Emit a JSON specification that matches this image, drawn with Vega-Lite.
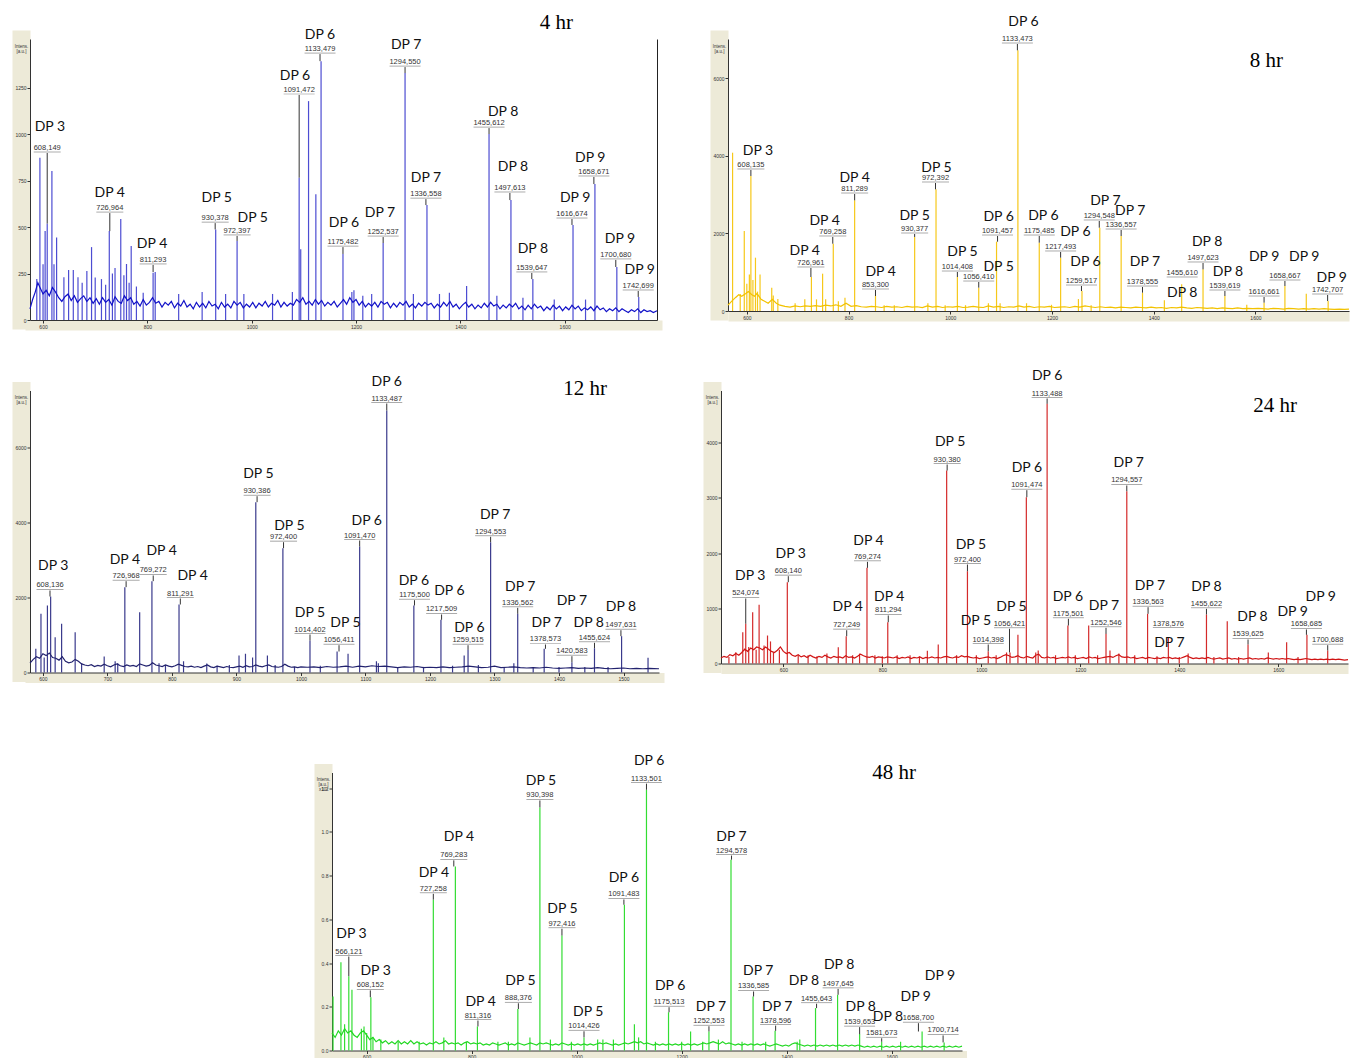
{
"$schema":"https://vega.github.io/schema/vega-lite/v6.json",
"padding":{"left":14,"top":12,"right":0,"bottom":0},
"background":"white",
"config":{
 "view":{"stroke":null},
 "axis":{"grid":false,"domainColor":"#333","domainWidth":1,"tickColor":"#333","tickSize":3,"labelFontSize":5,"labelColor":"#333","labelFont":"Liberation Sans","labelPadding":1,"titleFontWeight":"normal"},
 "axisY":{"titleAngle":0,"titleAlign":"center","titleBaseline":"top","titleX":-9,"titleY":4,"titleFontSize":4.5,"titleColor":"#333","titleFont":"Liberation Sans","titleLineHeight":5},
 "title":{"font":"Liberation Serif","fontSize":21,"fontWeight":"normal","color":"#000","anchor":"end","frame":"group","baseline":"top"}
},
"datasets":{
"a_pk":[{"mz":588,"i":220},{"mz":594,"i":873},{"mz":600,"i":300},{"mz":604,"i":478},{"mz":608,"i":518},{"mz":617,"i":801},{"mz":621,"i":300},{"mz":626,"i":443},{"mz":640,"i":230},{"mz":649,"i":269},{"mz":658,"i":269},{"mz":667,"i":230},{"mz":675,"i":200},{"mz":684,"i":263},{"mz":693,"i":392},{"mz":700,"i":228},{"mz":712,"i":220},{"mz":720,"i":190},{"mz":727,"i":478},{"mz":733,"i":250},{"mz":738,"i":280},{"mz":749,"i":543},{"mz":755,"i":240},{"mz":760,"i":301},{"mz":765,"i":200},{"mz":769,"i":398},{"mz":779,"i":180},{"mz":792,"i":147},{"mz":811,"i":254},{"mz":815,"i":258},{"mz":860,"i":140},{"mz":905,"i":150},{"mz":931,"i":487},{"mz":950,"i":140},{"mz":972,"i":425},{"mz":985,"i":140},{"mz":1040,"i":140},{"mz":1078,"i":150},{"mz":1091,"i":765},{"mz":1094,"i":380},{"mz":1109,"i":1177},{"mz":1123,"i":676},{"mz":1133,"i":1392},{"mz":1175,"i":355},{"mz":1192,"i":150},{"mz":1196,"i":160},{"mz":1213,"i":130},{"mz":1230,"i":140},{"mz":1252,"i":414},{"mz":1294,"i":1328},{"mz":1310,"i":140},{"mz":1336,"i":618},{"mz":1360,"i":140},{"mz":1379,"i":147},{"mz":1412,"i":183},{"mz":1455,"i":1000},{"mz":1470,"i":130},{"mz":1497,"i":645},{"mz":1520,"i":120},{"mz":1539,"i":220},{"mz":1580,"i":110},{"mz":1616,"i":511},{"mz":1640,"i":110},{"mz":1658,"i":731},{"mz":1700,"i":285},{"mz":1742,"i":124}],
"a_base":[{"mz":575,"i":60},{"mz":580,"i":110},{"mz":585,"i":150},{"mz":590,"i":200},{"mz":595,"i":170},{"mz":600,"i":140},{"mz":606,"i":160},{"mz":612,"i":130},{"mz":618,"i":175},{"mz":624,"i":150},{"mz":630,"i":120},{"mz":636,"i":100},{"mz":642,"i":125},{"mz":648,"i":140},{"mz":654,"i":105},{"mz":660,"i":130},{"mz":666,"i":95},{"mz":672,"i":115},{"mz":678,"i":130},{"mz":684,"i":100},{"mz":690,"i":120},{"mz":696,"i":90},{"mz":702,"i":115},{"mz":708,"i":85},{"mz":714,"i":120},{"mz":720,"i":95},{"mz":726,"i":110},{"mz":732,"i":80},{"mz":738,"i":125},{"mz":744,"i":100},{"mz":750,"i":90},{"mz":756,"i":130},{"mz":762,"i":105},{"mz":768,"i":120},{"mz":774,"i":85},{"mz":780,"i":100},{"mz":786,"i":75},{"mz":792,"i":110},{"mz":798,"i":80},{"mz":804,"i":95},{"mz":810,"i":120},{"mz":816,"i":90},{"mz":822,"i":100},{"mz":828,"i":70},{"mz":834,"i":95},{"mz":840,"i":80},{"mz":846,"i":100},{"mz":852,"i":65},{"mz":858,"i":90},{"mz":864,"i":75},{"mz":870,"i":105},{"mz":876,"i":70},{"mz":882,"i":85},{"mz":888,"i":60},{"mz":894,"i":95},{"mz":900,"i":70},{"mz":906,"i":90},{"mz":912,"i":65},{"mz":918,"i":100},{"mz":924,"i":75},{"mz":930,"i":85},{"mz":936,"i":60},{"mz":942,"i":95},{"mz":948,"i":70},{"mz":954,"i":85},{"mz":960,"i":65},{"mz":966,"i":100},{"mz":972,"i":80},{"mz":978,"i":95},{"mz":984,"i":65},{"mz":990,"i":85},{"mz":996,"i":70},{"mz":1002,"i":95},{"mz":1008,"i":65},{"mz":1014,"i":90},{"mz":1020,"i":75},{"mz":1026,"i":100},{"mz":1032,"i":70},{"mz":1038,"i":90},{"mz":1044,"i":80},{"mz":1050,"i":105},{"mz":1056,"i":70},{"mz":1062,"i":95},{"mz":1068,"i":75},{"mz":1074,"i":90},{"mz":1080,"i":80},{"mz":1086,"i":110},{"mz":1092,"i":95},{"mz":1098,"i":120},{"mz":1104,"i":85},{"mz":1110,"i":100},{"mz":1116,"i":80},{"mz":1122,"i":110},{"mz":1128,"i":85},{"mz":1134,"i":105},{"mz":1140,"i":75},{"mz":1146,"i":95},{"mz":1152,"i":80},{"mz":1158,"i":100},{"mz":1164,"i":70},{"mz":1170,"i":90},{"mz":1176,"i":110},{"mz":1182,"i":85},{"mz":1188,"i":120},{"mz":1194,"i":95},{"mz":1200,"i":110},{"mz":1206,"i":80},{"mz":1212,"i":100},{"mz":1218,"i":70},{"mz":1224,"i":90},{"mz":1230,"i":75},{"mz":1236,"i":95},{"mz":1242,"i":70},{"mz":1248,"i":100},{"mz":1254,"i":85},{"mz":1260,"i":95},{"mz":1266,"i":65},{"mz":1272,"i":90},{"mz":1278,"i":70},{"mz":1284,"i":95},{"mz":1290,"i":80},{"mz":1296,"i":100},{"mz":1302,"i":70},{"mz":1308,"i":85},{"mz":1314,"i":65},{"mz":1320,"i":90},{"mz":1326,"i":75},{"mz":1332,"i":95},{"mz":1338,"i":80},{"mz":1344,"i":90},{"mz":1350,"i":65},{"mz":1356,"i":85},{"mz":1362,"i":70},{"mz":1368,"i":95},{"mz":1374,"i":75},{"mz":1380,"i":100},{"mz":1386,"i":70},{"mz":1392,"i":85},{"mz":1398,"i":60},{"mz":1404,"i":80},{"mz":1410,"i":95},{"mz":1416,"i":70},{"mz":1422,"i":85},{"mz":1428,"i":60},{"mz":1434,"i":80},{"mz":1440,"i":65},{"mz":1446,"i":90},{"mz":1452,"i":70},{"mz":1458,"i":95},{"mz":1464,"i":75},{"mz":1470,"i":85},{"mz":1476,"i":60},{"mz":1482,"i":80},{"mz":1488,"i":65},{"mz":1494,"i":85},{"mz":1500,"i":70},{"mz":1506,"i":90},{"mz":1512,"i":60},{"mz":1518,"i":75},{"mz":1524,"i":55},{"mz":1530,"i":80},{"mz":1536,"i":60},{"mz":1542,"i":85},{"mz":1548,"i":65},{"mz":1554,"i":75},{"mz":1560,"i":50},{"mz":1566,"i":70},{"mz":1572,"i":55},{"mz":1578,"i":80},{"mz":1584,"i":60},{"mz":1590,"i":75},{"mz":1596,"i":50},{"mz":1602,"i":70},{"mz":1608,"i":55},{"mz":1614,"i":80},{"mz":1620,"i":60},{"mz":1626,"i":75},{"mz":1632,"i":50},{"mz":1638,"i":65},{"mz":1644,"i":55},{"mz":1650,"i":70},{"mz":1656,"i":50},{"mz":1662,"i":75},{"mz":1668,"i":55},{"mz":1674,"i":65},{"mz":1680,"i":45},{"mz":1686,"i":60},{"mz":1692,"i":50},{"mz":1698,"i":65},{"mz":1704,"i":45},{"mz":1710,"i":60},{"mz":1716,"i":50},{"mz":1722,"i":40},{"mz":1728,"i":55},{"mz":1734,"i":45},{"mz":1740,"i":60},{"mz":1746,"i":40},{"mz":1752,"i":55},{"mz":1758,"i":45},{"mz":1764,"i":50},{"mz":1770,"i":40},{"mz":1777,"i":50}],
"a_lab":[{"dp":"DP 3","val":"608,149","tx":613,"ty":1038,"lx":608,"ly":898,"lead":518},{"dp":"DP 4","val":"726,964","tx":728,"ty":683,"lx":728,"ly":575,"lead":478},{"dp":"DP 4","val":"811,293","tx":809,"ty":409,"lx":811,"ly":296,"lead":258},{"dp":"DP 5","val":"930,378","tx":933,"ty":656,"lx":930,"ly":521,"lead":487},{"dp":"DP 5","val":"972,397","tx":1002,"ty":548,"lx":972,"ly":452,"lead":425},{"dp":"DP 6","val":"1091,472","tx":1083,"ty":1312,"lx":1091,"ly":1210,"lead":765},{"dp":"DP 6","val":"1133,479","tx":1131,"ty":1532,"lx":1131,"ly":1430,"lead":1392},{"dp":"DP 6","val":"1175,482","tx":1177,"ty":521,"lx":1175,"ly":392,"lead":355},{"dp":"DP 7","val":"1252,537","tx":1246,"ty":575,"lx":1252,"ly":446,"lead":414},{"dp":"DP 7","val":"1294,550","tx":1296,"ty":1478,"lx":1294,"ly":1360,"lead":1328},{"dp":"DP 7","val":"1336,558","tx":1334,"ty":763,"lx":1334,"ly":650,"lead":618},{"dp":"DP 8","val":"1455,612","tx":1482,"ty":1118,"lx":1455,"ly":1032,"lead":1000},{"dp":"DP 8","val":"1497,613","tx":1501,"ty":823,"lx":1495,"ly":683,"lead":645},{"dp":"DP 8","val":"1539,647","tx":1539,"ty":382,"lx":1537,"ly":253,"lead":220},{"dp":"DP 9","val":"1616,674","tx":1620,"ty":656,"lx":1614,"ly":543,"lead":511},{"dp":"DP 9","val":"1658,671","tx":1649,"ty":871,"lx":1656,"ly":769,"lead":731},{"dp":"DP 9","val":"1700,680","tx":1706,"ty":435,"lx":1698,"ly":323,"lead":285},{"dp":"DP 9","val":"1742,699","tx":1744,"ty":269,"lx":1741,"ly":156,"lead":124}],
"b_pk":[{"mz":572,"i":4085},{"mz":587,"i":436},{"mz":595,"i":2065},{"mz":600,"i":700},{"mz":605,"i":942},{"mz":608,"i":3484},{"mz":612,"i":800},{"mz":617,"i":1376},{"mz":621,"i":500},{"mz":626,"i":942},{"mz":649,"i":602},{"mz":652,"i":400},{"mz":661,"i":308},{"mz":695,"i":200},{"mz":714,"i":300},{"mz":727,"i":877},{"mz":737,"i":300},{"mz":749,"i":963},{"mz":755,"i":300},{"mz":770,"i":1737},{"mz":780,"i":250},{"mz":793,"i":344},{"mz":812,"i":2856},{"mz":853,"i":387},{"mz":870,"i":150},{"mz":890,"i":150},{"mz":930,"i":1910},{"mz":956,"i":200},{"mz":972,"i":3140},{"mz":990,"i":150},{"mz":1014,"i":877},{"mz":1030,"i":150},{"mz":1056,"i":602},{"mz":1075,"i":200},{"mz":1091,"i":1789},{"mz":1098,"i":200},{"mz":1133,"i":6727},{"mz":1150,"i":200},{"mz":1175,"i":1763},{"mz":1199,"i":160},{"mz":1217,"i":1376},{"mz":1252,"i":308},{"mz":1259,"i":516},{"mz":1277,"i":150},{"mz":1294,"i":2150},{"mz":1336,"i":1935},{"mz":1378,"i":473},{"mz":1421,"i":275},{"mz":1455,"i":688},{"mz":1497,"i":1075},{"mz":1540,"i":387},{"mz":1583,"i":160},{"mz":1617,"i":215},{"mz":1658,"i":645},{"mz":1700,"i":447},{"mz":1743,"i":258}],
"b_base":[{"mz":563,"i":150},{"mz":570,"i":250},{"mz":578,"i":350},{"mz":584,"i":420},{"mz":590,"i":380},{"mz":598,"i":450},{"mz":603,"i":500},{"mz":610,"i":420},{"mz":615,"i":380},{"mz":620,"i":450},{"mz":628,"i":300},{"mz":635,"i":250},{"mz":642,"i":200},{"mz":650,"i":300},{"mz":658,"i":200},{"mz":665,"i":150},{"mz":675,"i":120},{"mz":685,"i":100},{"mz":695,"i":130},{"mz":705,"i":110},{"mz":715,"i":130},{"mz":725,"i":120},{"mz":735,"i":140},{"mz":745,"i":120},{"mz":755,"i":150},{"mz":765,"i":130},{"mz":775,"i":160},{"mz":785,"i":120},{"mz":795,"i":200},{"mz":805,"i":120},{"mz":815,"i":140},{"mz":825,"i":110},{"mz":835,"i":100},{"mz":845,"i":120},{"mz":855,"i":110},{"mz":865,"i":90},{"mz":875,"i":120},{"mz":885,"i":100},{"mz":895,"i":110},{"mz":905,"i":90},{"mz":915,"i":120},{"mz":925,"i":100},{"mz":935,"i":110},{"mz":945,"i":90},{"mz":955,"i":130},{"mz":965,"i":100},{"mz":975,"i":120},{"mz":985,"i":90},{"mz":995,"i":110},{"mz":1005,"i":100},{"mz":1015,"i":120},{"mz":1025,"i":90},{"mz":1035,"i":100},{"mz":1045,"i":120},{"mz":1055,"i":100},{"mz":1065,"i":90},{"mz":1075,"i":130},{"mz":1085,"i":100},{"mz":1095,"i":120},{"mz":1105,"i":90},{"mz":1115,"i":110},{"mz":1125,"i":100},{"mz":1135,"i":130},{"mz":1145,"i":100},{"mz":1155,"i":120},{"mz":1165,"i":90},{"mz":1175,"i":110},{"mz":1185,"i":100},{"mz":1195,"i":120},{"mz":1205,"i":90},{"mz":1215,"i":100},{"mz":1225,"i":110},{"mz":1235,"i":90},{"mz":1245,"i":120},{"mz":1255,"i":100},{"mz":1265,"i":130},{"mz":1275,"i":110},{"mz":1285,"i":90},{"mz":1295,"i":110},{"mz":1305,"i":90},{"mz":1315,"i":100},{"mz":1325,"i":80},{"mz":1335,"i":100},{"mz":1345,"i":90},{"mz":1355,"i":80},{"mz":1365,"i":100},{"mz":1375,"i":90},{"mz":1385,"i":80},{"mz":1395,"i":100},{"mz":1405,"i":80},{"mz":1415,"i":90},{"mz":1425,"i":70},{"mz":1435,"i":90},{"mz":1445,"i":80},{"mz":1455,"i":100},{"mz":1465,"i":80},{"mz":1475,"i":70},{"mz":1485,"i":90},{"mz":1495,"i":80},{"mz":1505,"i":70},{"mz":1515,"i":80},{"mz":1525,"i":60},{"mz":1535,"i":80},{"mz":1545,"i":70},{"mz":1555,"i":60},{"mz":1565,"i":80},{"mz":1575,"i":60},{"mz":1585,"i":70},{"mz":1595,"i":60},{"mz":1605,"i":70},{"mz":1615,"i":60},{"mz":1625,"i":50},{"mz":1635,"i":70},{"mz":1645,"i":60},{"mz":1655,"i":50},{"mz":1665,"i":70},{"mz":1675,"i":60},{"mz":1685,"i":50},{"mz":1695,"i":60},{"mz":1705,"i":50},{"mz":1715,"i":60},{"mz":1725,"i":50},{"mz":1735,"i":60},{"mz":1745,"i":50},{"mz":1755,"i":40},{"mz":1765,"i":50},{"mz":1775,"i":40},{"mz":1784,"i":50}],
"b_lab":[{"dp":"DP 3","val":"608,135","tx":622,"ty":4129,"lx":608,"ly":3639,"lead":3484},{"dp":"DP 4","val":"726,961","tx":714,"ty":1548,"lx":726,"ly":1110,"lead":877},{"dp":"DP 4","val":"769,258","tx":753,"ty":2323,"lx":769,"ly":1910,"lead":1737},{"dp":"DP 4","val":"811,289","tx":812,"ty":3440,"lx":812,"ly":3019,"lead":2856},{"dp":"DP 4","val":"853,300","tx":863,"ty":1006,"lx":853,"ly":542,"lead":387},{"dp":"DP 5","val":"930,377","tx":930,"ty":2452,"lx":930,"ly":1987,"lead":1910},{"dp":"DP 5","val":"972,392","tx":973,"ty":3700,"lx":971,"ly":3303,"lead":3140},{"dp":"DP 5","val":"1014,408","tx":1024,"ty":1523,"lx":1014,"ly":1006,"lead":877},{"dp":"DP 5","val":"1056,410","tx":1095,"ty":1135,"lx":1056,"ly":748,"lead":602},{"dp":"DP 6","val":"1091,457","tx":1095,"ty":2426,"lx":1093,"ly":1935,"lead":1789},{"dp":"DP 6","val":"1133,473","tx":1144,"ty":7458,"lx":1132,"ly":6890,"lead":6727},{"dp":"DP 6","val":"1175,485","tx":1183,"ty":2452,"lx":1175,"ly":1935,"lead":1763},{"dp":"DP 6","val":"1217,493","tx":1246,"ty":2039,"lx":1217,"ly":1523,"lead":1376},{"dp":"DP 6","val":"1259,517","tx":1266,"ty":1264,"lx":1258,"ly":645,"lead":516},{"dp":"DP 7","val":"1294,548","tx":1305,"ty":2839,"lx":1293,"ly":2323,"lead":2150},{"dp":"DP 7","val":"1336,557","tx":1354,"ty":2581,"lx":1336,"ly":2090,"lead":1935},{"dp":"DP 7","val":"1378,555","tx":1383,"ty":1264,"lx":1378,"ly":619,"lead":473},{"dp":"DP 8","val":"1455,610","tx":1456,"ty":464,"lx":1456,"ly":852,"lead":852},{"dp":"DP 8","val":"1497,623","tx":1505,"ty":1781,"lx":1497,"ly":1239,"lead":1075},{"dp":"DP 8","val":"1539,619","tx":1546,"ty":1006,"lx":1540,"ly":516,"lead":387},{"dp":"DP 9","val":"1616,661","tx":1617,"ty":1394,"lx":1617,"ly":361,"lead":215},{"dp":"DP 9","val":"1658,667","tx":1696,"ty":1394,"lx":1658,"ly":774,"lead":645},{"dp":"DP 9","val":"1742,707","tx":1750,"ty":852,"lx":1742,"ly":413,"lead":258}],
"c_pk":[{"mz":589,"i":632},{"mz":597,"i":1565},{"mz":602,"i":400},{"mz":607,"i":1787},{"mz":612,"i":2027},{"mz":619,"i":942},{"mz":629,"i":1298},{"mz":650,"i":1076},{"mz":660,"i":250},{"mz":695,"i":427},{"mz":712,"i":300},{"mz":716,"i":250},{"mz":727,"i":2276},{"mz":750,"i":1609},{"mz":769,"i":2436},{"mz":780,"i":250},{"mz":790,"i":200},{"mz":811,"i":1813},{"mz":818,"i":300},{"mz":854,"i":240},{"mz":870,"i":180},{"mz":889,"i":200},{"mz":904,"i":453},{"mz":914,"i":500},{"mz":925,"i":400},{"mz":930,"i":4542},{"mz":948,"i":453},{"mz":960,"i":200},{"mz":972,"i":3316},{"mz":990,"i":150},{"mz":1014,"i":853},{"mz":1030,"i":180},{"mz":1056,"i":560},{"mz":1073,"i":500},{"mz":1091,"i":3360},{"mz":1117,"i":300},{"mz":1120,"i":250},{"mz":1133,"i":6987},{"mz":1150,"i":150},{"mz":1175,"i":1787},{"mz":1190,"i":150},{"mz":1217,"i":1405},{"mz":1235,"i":180},{"mz":1253,"i":453},{"mz":1259,"i":605},{"mz":1275,"i":200},{"mz":1294,"i":3476},{"mz":1315,"i":150},{"mz":1330,"i":250},{"mz":1336,"i":1565},{"mz":1360,"i":150},{"mz":1377,"i":632},{"mz":1400,"i":150},{"mz":1420,"i":275},{"mz":1440,"i":150},{"mz":1455,"i":648},{"mz":1476,"i":150},{"mz":1497,"i":969},{"mz":1538,"i":392}],
"c_base":[{"mz":580,"i":250},{"mz":585,"i":350},{"mz":590,"i":420},{"mz":595,"i":380},{"mz":600,"i":500},{"mz":605,"i":450},{"mz":610,"i":520},{"mz":615,"i":400},{"mz":620,"i":380},{"mz":625,"i":330},{"mz":630,"i":420},{"mz":635,"i":300},{"mz":640,"i":260},{"mz":645,"i":280},{"mz":650,"i":350},{"mz":655,"i":300},{"mz":660,"i":230},{"mz":665,"i":200},{"mz":670,"i":180},{"mz":675,"i":210},{"mz":680,"i":160},{"mz":685,"i":190},{"mz":690,"i":170},{"mz":695,"i":220},{"mz":700,"i":180},{"mz":705,"i":150},{"mz":710,"i":200},{"mz":715,"i":230},{"mz":720,"i":180},{"mz":725,"i":160},{"mz":730,"i":200},{"mz":735,"i":170},{"mz":740,"i":190},{"mz":745,"i":160},{"mz":750,"i":230},{"mz":755,"i":200},{"mz":760,"i":170},{"mz":765,"i":190},{"mz":770,"i":260},{"mz":775,"i":200},{"mz":780,"i":180},{"mz":785,"i":160},{"mz":790,"i":200},{"mz":795,"i":170},{"mz":800,"i":150},{"mz":805,"i":180},{"mz":810,"i":220},{"mz":815,"i":190},{"mz":820,"i":160},{"mz":825,"i":150},{"mz":830,"i":170},{"mz":835,"i":140},{"mz":840,"i":160},{"mz":845,"i":130},{"mz":850,"i":170},{"mz":855,"i":200},{"mz":860,"i":150},{"mz":865,"i":130},{"mz":870,"i":170},{"mz":875,"i":150},{"mz":880,"i":130},{"mz":885,"i":160},{"mz":890,"i":140},{"mz":895,"i":130},{"mz":900,"i":150},{"mz":905,"i":170},{"mz":910,"i":140},{"mz":915,"i":180},{"mz":920,"i":150},{"mz":925,"i":160},{"mz":930,"i":200},{"mz":935,"i":170},{"mz":940,"i":150},{"mz":945,"i":180},{"mz":950,"i":200},{"mz":955,"i":160},{"mz":960,"i":150},{"mz":965,"i":140},{"mz":970,"i":160},{"mz":975,"i":220},{"mz":980,"i":170},{"mz":985,"i":140},{"mz":990,"i":150},{"mz":995,"i":130},{"mz":1000,"i":150},{"mz":1010,"i":140},{"mz":1020,"i":150},{"mz":1030,"i":130},{"mz":1040,"i":160},{"mz":1050,"i":140},{"mz":1060,"i":150},{"mz":1070,"i":170},{"mz":1080,"i":140},{"mz":1090,"i":170},{"mz":1100,"i":150},{"mz":1110,"i":180},{"mz":1120,"i":160},{"mz":1130,"i":170},{"mz":1140,"i":150},{"mz":1150,"i":130},{"mz":1160,"i":150},{"mz":1170,"i":140},{"mz":1180,"i":160},{"mz":1190,"i":130},{"mz":1200,"i":140},{"mz":1210,"i":130},{"mz":1220,"i":150},{"mz":1230,"i":130},{"mz":1240,"i":140},{"mz":1250,"i":150},{"mz":1260,"i":170},{"mz":1270,"i":150},{"mz":1280,"i":130},{"mz":1290,"i":140},{"mz":1300,"i":170},{"mz":1310,"i":130},{"mz":1320,"i":140},{"mz":1330,"i":150},{"mz":1340,"i":130},{"mz":1350,"i":120},{"mz":1360,"i":130},{"mz":1370,"i":120},{"mz":1380,"i":140},{"mz":1390,"i":120},{"mz":1400,"i":110},{"mz":1410,"i":120},{"mz":1420,"i":130},{"mz":1430,"i":110},{"mz":1440,"i":120},{"mz":1450,"i":110},{"mz":1460,"i":130},{"mz":1470,"i":110},{"mz":1480,"i":100},{"mz":1490,"i":110},{"mz":1500,"i":120},{"mz":1510,"i":100},{"mz":1520,"i":110},{"mz":1530,"i":100},{"mz":1540,"i":110},{"mz":1555,"i":100}],
"c_lab":[{"dp":"DP 3","val":"608,136","tx":616,"ty":2853,"lx":611,"ly":2187,"lead":2027},{"dp":"DP 4","val":"726,968","tx":727,"ty":2987,"lx":729,"ly":2435,"lead":2276},{"dp":"DP 4","val":"769,272","tx":784,"ty":3253,"lx":771,"ly":2587,"lead":2436},{"dp":"DP 4","val":"811,291","tx":832,"ty":2568,"lx":813,"ly":1973,"lead":1813},{"dp":"DP 5","val":"930,386","tx":934,"ty":5299,"lx":932,"ly":4701,"lead":4542},{"dp":"DP 5","val":"972,400","tx":982,"ty":3920,"lx":973,"ly":3475,"lead":3316},{"dp":"DP 5","val":"1014,402","tx":1014,"ty":1592,"lx":1014,"ly":1013,"lead":853},{"dp":"DP 5","val":"1056,411","tx":1069,"ty":1325,"lx":1059,"ly":728,"lead":560},{"dp":"DP 6","val":"1091,470","tx":1102,"ty":4053,"lx":1091,"ly":3520,"lead":3360},{"dp":"DP 6","val":"1133,487","tx":1133,"ty":7741,"lx":1133,"ly":7173,"lead":6987},{"dp":"DP 6","val":"1175,500","tx":1175,"ty":2435,"lx":1176,"ly":1928,"lead":1787},{"dp":"DP 6","val":"1217,509","tx":1230,"ty":2168,"lx":1218,"ly":1547,"lead":1405},{"dp":"DP 6","val":"1259,515","tx":1261,"ty":1192,"lx":1259,"ly":728,"lead":605},{"dp":"DP 7","val":"1294,553","tx":1301,"ty":4213,"lx":1294,"ly":3619,"lead":3476},{"dp":"DP 7","val":"1336,562","tx":1340,"ty":2275,"lx":1336,"ly":1725,"lead":1565},{"dp":"DP 7","val":"1378,573","tx":1381,"ty":1325,"lx":1379,"ly":747,"lead":632},{"dp":"DP 7","val":"1420,583","tx":1420,"ty":1901,"lx":1420,"ly":435,"lead":275},{"dp":"DP 8","val":"1455,624","tx":1446,"ty":1325,"lx":1455,"ly":792,"lead":648},{"dp":"DP 8","val":"1497,631","tx":1496,"ty":1741,"lx":1496,"ly":1128,"lead":969}],
"d_pk":[{"mz":490,"i":120},{"mz":504,"i":205},{"mz":518,"i":567},{"mz":524,"i":720},{"mz":530,"i":300},{"mz":538,"i":930},{"mz":545,"i":250},{"mz":551,"i":1063},{"mz":561,"i":326},{"mz":568,"i":507},{"mz":574,"i":400},{"mz":580,"i":200},{"mz":592,"i":250},{"mz":608,"i":1473},{"mz":630,"i":150},{"mz":650,"i":150},{"mz":668,"i":130},{"mz":688,"i":180},{"mz":711,"i":295},{"mz":727,"i":495},{"mz":740,"i":150},{"mz":754,"i":180},{"mz":769,"i":1733},{"mz":785,"i":150},{"mz":800,"i":130},{"mz":811,"i":748},{"mz":830,"i":150},{"mz":856,"i":150},{"mz":875,"i":130},{"mz":891,"i":230},{"mz":913,"i":344},{"mz":930,"i":3496},{"mz":950,"i":150},{"mz":972,"i":1672},{"mz":990,"i":150},{"mz":1014,"i":223},{"mz":1030,"i":150},{"mz":1051,"i":200},{"mz":1058,"i":200},{"mz":1074,"i":520},{"mz":1091,"i":3013},{"mz":1110,"i":200},{"mz":1115,"i":235},{"mz":1133,"i":4705},{"mz":1150,"i":150},{"mz":1175,"i":688},{"mz":1190,"i":150},{"mz":1217,"i":688},{"mz":1235,"i":150},{"mz":1252,"i":537},{"mz":1260,"i":235},{"mz":1278,"i":180},{"mz":1294,"i":3122},{"mz":1310,"i":150},{"mz":1336,"i":900},{"mz":1355,"i":130},{"mz":1378,"i":477},{"mz":1400,"i":120},{"mz":1418,"i":180},{"mz":1455,"i":888},{"mz":1470,"i":120},{"mz":1497,"i":767},{"mz":1520,"i":120},{"mz":1539,"i":344},{"mz":1580,"i":200},{"mz":1617,"i":386},{"mz":1640,"i":120},{"mz":1658,"i":520},{"mz":1700,"i":235}],
"d_base":[{"mz":474,"i":100},{"mz":480,"i":130},{"mz":486,"i":110},{"mz":492,"i":160},{"mz":498,"i":140},{"mz":504,"i":180},{"mz":510,"i":150},{"mz":516,"i":200},{"mz":522,"i":260},{"mz":528,"i":220},{"mz":534,"i":280},{"mz":540,"i":250},{"mz":546,"i":300},{"mz":552,"i":280},{"mz":558,"i":250},{"mz":564,"i":300},{"mz":570,"i":260},{"mz":576,"i":220},{"mz":582,"i":200},{"mz":588,"i":240},{"mz":594,"i":300},{"mz":600,"i":220},{"mz":606,"i":180},{"mz":612,"i":200},{"mz":618,"i":150},{"mz":624,"i":130},{"mz":630,"i":160},{"mz":636,"i":120},{"mz":642,"i":140},{"mz":648,"i":110},{"mz":654,"i":150},{"mz":660,"i":120},{"mz":666,"i":100},{"mz":672,"i":130},{"mz":678,"i":110},{"mz":684,"i":150},{"mz":690,"i":120},{"mz":696,"i":100},{"mz":702,"i":130},{"mz":708,"i":110},{"mz":714,"i":120},{"mz":720,"i":100},{"mz":726,"i":140},{"mz":732,"i":110},{"mz":738,"i":120},{"mz":744,"i":100},{"mz":750,"i":130},{"mz":756,"i":170},{"mz":762,"i":140},{"mz":768,"i":120},{"mz":774,"i":110},{"mz":780,"i":130},{"mz":786,"i":100},{"mz":792,"i":120},{"mz":798,"i":110},{"mz":804,"i":100},{"mz":810,"i":120},{"mz":816,"i":110},{"mz":822,"i":100},{"mz":828,"i":120},{"mz":834,"i":90},{"mz":840,"i":110},{"mz":846,"i":100},{"mz":852,"i":120},{"mz":858,"i":90},{"mz":864,"i":110},{"mz":870,"i":100},{"mz":876,"i":120},{"mz":882,"i":90},{"mz":888,"i":110},{"mz":894,"i":100},{"mz":900,"i":120},{"mz":906,"i":100},{"mz":912,"i":110},{"mz":918,"i":100},{"mz":924,"i":120},{"mz":930,"i":130},{"mz":936,"i":110},{"mz":942,"i":100},{"mz":948,"i":120},{"mz":954,"i":110},{"mz":960,"i":140},{"mz":966,"i":120},{"mz":972,"i":130},{"mz":978,"i":110},{"mz":984,"i":100},{"mz":990,"i":110},{"mz":996,"i":90},{"mz":1002,"i":100},{"mz":1008,"i":110},{"mz":1014,"i":120},{"mz":1020,"i":100},{"mz":1026,"i":110},{"mz":1032,"i":90},{"mz":1038,"i":110},{"mz":1044,"i":140},{"mz":1050,"i":160},{"mz":1056,"i":140},{"mz":1062,"i":110},{"mz":1068,"i":120},{"mz":1074,"i":140},{"mz":1080,"i":110},{"mz":1086,"i":100},{"mz":1092,"i":130},{"mz":1098,"i":110},{"mz":1104,"i":100},{"mz":1110,"i":150},{"mz":1116,"i":170},{"mz":1122,"i":110},{"mz":1128,"i":100},{"mz":1134,"i":120},{"mz":1140,"i":100},{"mz":1146,"i":110},{"mz":1152,"i":90},{"mz":1158,"i":100},{"mz":1164,"i":110},{"mz":1170,"i":100},{"mz":1176,"i":120},{"mz":1182,"i":100},{"mz":1188,"i":110},{"mz":1194,"i":90},{"mz":1200,"i":100},{"mz":1206,"i":110},{"mz":1212,"i":90},{"mz":1218,"i":120},{"mz":1224,"i":100},{"mz":1230,"i":110},{"mz":1236,"i":90},{"mz":1242,"i":100},{"mz":1248,"i":110},{"mz":1254,"i":120},{"mz":1260,"i":130},{"mz":1266,"i":110},{"mz":1272,"i":140},{"mz":1278,"i":160},{"mz":1284,"i":120},{"mz":1290,"i":110},{"mz":1296,"i":120},{"mz":1302,"i":100},{"mz":1308,"i":110},{"mz":1314,"i":90},{"mz":1320,"i":100},{"mz":1326,"i":110},{"mz":1332,"i":90},{"mz":1338,"i":110},{"mz":1344,"i":100},{"mz":1350,"i":90},{"mz":1356,"i":100},{"mz":1362,"i":90},{"mz":1368,"i":110},{"mz":1374,"i":100},{"mz":1380,"i":110},{"mz":1386,"i":90},{"mz":1392,"i":100},{"mz":1398,"i":90},{"mz":1404,"i":100},{"mz":1410,"i":120},{"mz":1416,"i":140},{"mz":1422,"i":110},{"mz":1428,"i":90},{"mz":1434,"i":100},{"mz":1440,"i":90},{"mz":1446,"i":100},{"mz":1452,"i":90},{"mz":1458,"i":110},{"mz":1464,"i":90},{"mz":1470,"i":80},{"mz":1476,"i":90},{"mz":1482,"i":100},{"mz":1488,"i":80},{"mz":1494,"i":90},{"mz":1500,"i":100},{"mz":1506,"i":80},{"mz":1512,"i":90},{"mz":1518,"i":80},{"mz":1524,"i":90},{"mz":1530,"i":80},{"mz":1536,"i":90},{"mz":1542,"i":100},{"mz":1548,"i":80},{"mz":1554,"i":90},{"mz":1560,"i":80},{"mz":1566,"i":90},{"mz":1572,"i":80},{"mz":1578,"i":100},{"mz":1584,"i":90},{"mz":1590,"i":80},{"mz":1596,"i":90},{"mz":1602,"i":80},{"mz":1608,"i":90},{"mz":1614,"i":80},{"mz":1620,"i":90},{"mz":1626,"i":80},{"mz":1632,"i":70},{"mz":1638,"i":80},{"mz":1644,"i":70},{"mz":1650,"i":80},{"mz":1656,"i":90},{"mz":1662,"i":80},{"mz":1668,"i":70},{"mz":1674,"i":80},{"mz":1680,"i":70},{"mz":1686,"i":80},{"mz":1692,"i":70},{"mz":1698,"i":80},{"mz":1704,"i":70},{"mz":1710,"i":80},{"mz":1716,"i":70},{"mz":1722,"i":80},{"mz":1728,"i":70},{"mz":1734,"i":60},{"mz":1741,"i":70}],
"d_lab":[{"dp":"DP 3","val":"524,074","tx":533,"ty":1582,"lx":524,"ly":1178,"lead":720},{"dp":"DP 3","val":"608,140","tx":615,"ty":1975,"lx":610,"ly":1582,"lead":1473},{"dp":"DP 4","val":"727,249","tx":730,"ty":1020,"lx":728,"ly":603,"lead":495},{"dp":"DP 4","val":"769,274","tx":772,"ty":2216,"lx":770,"ly":1842,"lead":1733},{"dp":"DP 4","val":"811,294","tx":814,"ty":1201,"lx":812,"ly":870,"lead":748},{"dp":"DP 5","val":"930,380","tx":937,"ty":4009,"lx":931,"ly":3605,"lead":3496},{"dp":"DP 5","val":"972,400","tx":979,"ty":2138,"lx":972,"ly":1793,"lead":1672},{"dp":"DP 5","val":"1014,398","tx":989,"ty":766,"lx":1014,"ly":344,"lead":223},{"dp":"DP 5","val":"1056,421","tx":1061,"ty":1020,"lx":1057,"ly":629,"lead":200},{"dp":"DP 6","val":"1091,474","tx":1092,"ty":3538,"lx":1092,"ly":3140,"lead":3013},{"dp":"DP 6","val":"1133,488","tx":1133,"ty":5217,"lx":1133,"ly":4801,"lead":4705},{"dp":"DP 6","val":"1175,501","tx":1175,"ty":1201,"lx":1176,"ly":810,"lead":688},{"dp":"DP 7","val":"1252,546","tx":1248,"ty":1033,"lx":1252,"ly":647,"lead":537},{"dp":"DP 7","val":"1294,557","tx":1298,"ty":3629,"lx":1294,"ly":3225,"lead":3122},{"dp":"DP 7","val":"1336,563","tx":1341,"ty":1400,"lx":1337,"ly":1020,"lead":900},{"dp":"DP 7","val":"1378,576","tx":1380,"ty":368,"lx":1378,"ly":634,"lead":634},{"dp":"DP 8","val":"1455,622","tx":1455,"ty":1395,"lx":1455,"ly":991,"lead":888},{"dp":"DP 8","val":"1539,625","tx":1548,"ty":839,"lx":1539,"ly":435,"lead":344},{"dp":"DP 9","val":"1658,685","tx":1629,"ty":929,"lx":1657,"ly":616,"lead":520},{"dp":"DP 9","val":"1700,688","tx":1686,"ty":1201,"lx":1700,"ly":332,"lead":235}],
"e_pk":[{"mz":536,"i":0.247},{"mz":551,"i":0.404},{"mz":558,"i":0.12},{"mz":566,"i":0.34},{"mz":572,"i":0.278},{"mz":590,"i":0.1},{"mz":595,"i":0.11},{"mz":600,"i":0.08},{"mz":608,"i":0.244},{"mz":612,"i":0.06},{"mz":627,"i":0.05},{"mz":660,"i":0.04},{"mz":700,"i":0.04},{"mz":727,"i":0.69},{"mz":747,"i":0.06},{"mz":769,"i":0.842},{"mz":790,"i":0.04},{"mz":811,"i":0.11},{"mz":850,"i":0.04},{"mz":870,"i":0.04},{"mz":888,"i":0.19},{"mz":911,"i":0.06},{"mz":930,"i":1.112},{"mz":950,"i":0.05},{"mz":972,"i":0.526},{"mz":990,"i":0.04},{"mz":1014,"i":0.06},{"mz":1040,"i":0.05},{"mz":1050,"i":0.05},{"mz":1070,"i":0.05},{"mz":1091,"i":0.667},{"mz":1110,"i":0.12},{"mz":1118,"i":0.06},{"mz":1133,"i":1.193},{"mz":1150,"i":0.04},{"mz":1175,"i":0.175},{"mz":1200,"i":0.04},{"mz":1217,"i":0.087},{"mz":1240,"i":0.04},{"mz":1252,"i":0.087},{"mz":1270,"i":0.05},{"mz":1294,"i":0.873},{"mz":1315,"i":0.04},{"mz":1336,"i":0.247},{"mz":1360,"i":0.04},{"mz":1378,"i":0.09},{"mz":1420,"i":0.04},{"mz":1425,"i":0.05},{"mz":1455,"i":0.194},{"mz":1497,"i":0.255},{"mz":1539,"i":0.075},{"mz":1581,"i":0.04},{"mz":1617,"i":0.04},{"mz":1658,"i":0.087},{"mz":1700,"i":0.037}],
"e_base":[{"mz":534,"i":0.08},{"mz":540,"i":0.06},{"mz":546,"i":0.09},{"mz":552,"i":0.07},{"mz":558,"i":0.1},{"mz":564,"i":0.08},{"mz":570,"i":0.09},{"mz":576,"i":0.07},{"mz":582,"i":0.06},{"mz":588,"i":0.08},{"mz":594,"i":0.09},{"mz":600,"i":0.07},{"mz":606,"i":0.05},{"mz":612,"i":0.06},{"mz":618,"i":0.04},{"mz":624,"i":0.05},{"mz":630,"i":0.035},{"mz":636,"i":0.045},{"mz":642,"i":0.03},{"mz":648,"i":0.04},{"mz":654,"i":0.03},{"mz":660,"i":0.045},{"mz":666,"i":0.03},{"mz":672,"i":0.04},{"mz":678,"i":0.03},{"mz":684,"i":0.045},{"mz":690,"i":0.03},{"mz":696,"i":0.04},{"mz":702,"i":0.03},{"mz":708,"i":0.035},{"mz":714,"i":0.025},{"mz":720,"i":0.035},{"mz":726,"i":0.03},{"mz":732,"i":0.04},{"mz":738,"i":0.03},{"mz":744,"i":0.035},{"mz":750,"i":0.045},{"mz":756,"i":0.03},{"mz":762,"i":0.035},{"mz":768,"i":0.03},{"mz":774,"i":0.035},{"mz":780,"i":0.025},{"mz":786,"i":0.035},{"mz":792,"i":0.04},{"mz":798,"i":0.03},{"mz":804,"i":0.035},{"mz":810,"i":0.03},{"mz":816,"i":0.035},{"mz":822,"i":0.025},{"mz":828,"i":0.03},{"mz":834,"i":0.025},{"mz":840,"i":0.035},{"mz":846,"i":0.03},{"mz":852,"i":0.025},{"mz":858,"i":0.03},{"mz":864,"i":0.035},{"mz":870,"i":0.025},{"mz":876,"i":0.03},{"mz":882,"i":0.025},{"mz":888,"i":0.035},{"mz":894,"i":0.03},{"mz":900,"i":0.025},{"mz":906,"i":0.03},{"mz":912,"i":0.035},{"mz":918,"i":0.03},{"mz":924,"i":0.025},{"mz":930,"i":0.035},{"mz":936,"i":0.03},{"mz":942,"i":0.035},{"mz":948,"i":0.03},{"mz":954,"i":0.025},{"mz":960,"i":0.03},{"mz":966,"i":0.025},{"mz":972,"i":0.035},{"mz":978,"i":0.03},{"mz":984,"i":0.025},{"mz":990,"i":0.03},{"mz":996,"i":0.025},{"mz":1002,"i":0.03},{"mz":1008,"i":0.025},{"mz":1014,"i":0.03},{"mz":1020,"i":0.025},{"mz":1026,"i":0.03},{"mz":1032,"i":0.025},{"mz":1038,"i":0.03},{"mz":1044,"i":0.035},{"mz":1050,"i":0.03},{"mz":1056,"i":0.035},{"mz":1062,"i":0.03},{"mz":1068,"i":0.025},{"mz":1074,"i":0.03},{"mz":1080,"i":0.025},{"mz":1086,"i":0.03},{"mz":1092,"i":0.035},{"mz":1098,"i":0.03},{"mz":1104,"i":0.035},{"mz":1110,"i":0.04},{"mz":1116,"i":0.035},{"mz":1122,"i":0.04},{"mz":1128,"i":0.03},{"mz":1134,"i":0.035},{"mz":1140,"i":0.03},{"mz":1146,"i":0.025},{"mz":1152,"i":0.03},{"mz":1158,"i":0.025},{"mz":1164,"i":0.03},{"mz":1170,"i":0.025},{"mz":1176,"i":0.03},{"mz":1182,"i":0.025},{"mz":1188,"i":0.03},{"mz":1194,"i":0.025},{"mz":1200,"i":0.03},{"mz":1206,"i":0.025},{"mz":1212,"i":0.03},{"mz":1218,"i":0.025},{"mz":1224,"i":0.03},{"mz":1230,"i":0.025},{"mz":1236,"i":0.03},{"mz":1242,"i":0.035},{"mz":1248,"i":0.03},{"mz":1254,"i":0.035},{"mz":1260,"i":0.04},{"mz":1266,"i":0.035},{"mz":1272,"i":0.03},{"mz":1278,"i":0.04},{"mz":1284,"i":0.03},{"mz":1290,"i":0.035},{"mz":1296,"i":0.03},{"mz":1302,"i":0.025},{"mz":1308,"i":0.03},{"mz":1314,"i":0.025},{"mz":1320,"i":0.03},{"mz":1326,"i":0.025},{"mz":1332,"i":0.03},{"mz":1338,"i":0.025},{"mz":1344,"i":0.03},{"mz":1350,"i":0.025},{"mz":1356,"i":0.03},{"mz":1362,"i":0.025},{"mz":1368,"i":0.02},{"mz":1374,"i":0.025},{"mz":1380,"i":0.03},{"mz":1386,"i":0.025},{"mz":1392,"i":0.02},{"mz":1398,"i":0.025},{"mz":1404,"i":0.02},{"mz":1410,"i":0.03},{"mz":1416,"i":0.035},{"mz":1422,"i":0.03},{"mz":1428,"i":0.025},{"mz":1434,"i":0.02},{"mz":1440,"i":0.025},{"mz":1446,"i":0.02},{"mz":1452,"i":0.025},{"mz":1458,"i":0.02},{"mz":1464,"i":0.025},{"mz":1470,"i":0.02},{"mz":1476,"i":0.025},{"mz":1482,"i":0.02},{"mz":1488,"i":0.025},{"mz":1494,"i":0.02},{"mz":1500,"i":0.025},{"mz":1506,"i":0.02},{"mz":1512,"i":0.025},{"mz":1518,"i":0.02},{"mz":1524,"i":0.025},{"mz":1530,"i":0.02},{"mz":1536,"i":0.025},{"mz":1542,"i":0.02},{"mz":1548,"i":0.015},{"mz":1554,"i":0.02},{"mz":1560,"i":0.015},{"mz":1566,"i":0.02},{"mz":1572,"i":0.015},{"mz":1578,"i":0.02},{"mz":1584,"i":0.015},{"mz":1590,"i":0.02},{"mz":1596,"i":0.015},{"mz":1602,"i":0.02},{"mz":1608,"i":0.015},{"mz":1614,"i":0.02},{"mz":1620,"i":0.015},{"mz":1626,"i":0.02},{"mz":1632,"i":0.015},{"mz":1638,"i":0.02},{"mz":1644,"i":0.015},{"mz":1650,"i":0.02},{"mz":1656,"i":0.015},{"mz":1662,"i":0.02},{"mz":1668,"i":0.015},{"mz":1674,"i":0.02},{"mz":1680,"i":0.015},{"mz":1686,"i":0.02},{"mz":1692,"i":0.015},{"mz":1698,"i":0.02},{"mz":1704,"i":0.015},{"mz":1710,"i":0.02},{"mz":1716,"i":0.015},{"mz":1722,"i":0.02},{"mz":1728,"i":0.015},{"mz":1734,"i":0.02}],
"e_lab":[{"dp":"DP 3","val":"566,121","tx":571,"ty":0.532,"lx":566,"ly":0.43,"lead":0.34},{"dp":"DP 3","val":"608,152","tx":617,"ty":0.365,"lx":607,"ly":0.275,"lead":0.244},{"dp":"DP 4","val":"727,258","tx":728,"ty":0.811,"lx":727,"ly":0.717,"lead":0.69},{"dp":"DP 4","val":"769,283","tx":776,"ty":0.975,"lx":766,"ly":0.87,"lead":0.842},{"dp":"DP 4","val":"811,316","tx":817,"ty":0.22,"lx":812,"ly":0.137,"lead":0.11},{"dp":"DP 5","val":"888,376","tx":893,"ty":0.319,"lx":889,"ly":0.216,"lead":0.19},{"dp":"DP 5","val":"930,398","tx":932,"ty":1.234,"lx":930,"ly":1.144,"lead":1.112},{"dp":"DP 5","val":"972,416","tx":973,"ty":0.649,"lx":972,"ly":0.557,"lead":0.526},{"dp":"DP 5","val":"1014,426","tx":1022,"ty":0.175,"lx":1014,"ly":0.088,"lead":0.06},{"dp":"DP 6","val":"1091,483","tx":1090,"ty":0.789,"lx":1090,"ly":0.691,"lead":0.667},{"dp":"DP 6","val":"1133,501","tx":1138,"ty":1.323,"lx":1133,"ly":1.221,"lead":1.193},{"dp":"DP 6","val":"1175,513","tx":1178,"ty":0.293,"lx":1176,"ly":0.198,"lead":0.175},{"dp":"DP 7","val":"1252,553","tx":1256,"ty":0.198,"lx":1252,"ly":0.111,"lead":0.087},{"dp":"DP 7","val":"1294,578","tx":1295,"ty":0.975,"lx":1295,"ly":0.892,"lead":0.873},{"dp":"DP 7","val":"1336,585","tx":1346,"ty":0.365,"lx":1337,"ly":0.27,"lead":0.247},{"dp":"DP 7","val":"1378,596","tx":1382,"ty":0.198,"lx":1379,"ly":0.114,"lead":0.09},{"dp":"DP 8","val":"1455,643","tx":1433,"ty":0.316,"lx":1457,"ly":0.214,"lead":0.194},{"dp":"DP 8","val":"1497,645","tx":1500,"ty":0.389,"lx":1498,"ly":0.282,"lead":0.255},{"dp":"DP 8","val":"1539,653","tx":1541,"ty":0.198,"lx":1539,"ly":0.107,"lead":0.075},{"dp":"DP 8","val":"1581,673","tx":1593,"ty":0.154,"lx":1581,"ly":0.056,"lead":0.04},{"dp":"DP 9","val":"1658,700","tx":1646,"ty":0.243,"lx":1651,"ly":0.125,"lead":0.087},{"dp":"DP 9","val":"1700,714","tx":1692,"ty":0.339,"lx":1698,"ly":0.069,"lead":0.037}]
},
"vconcat":[
 {"vconcat":[
  {"hconcat":[
   {"width":627,"height":281,
    "title":{"text":"4 hr","dx":-84,"offset":-5},
    "resolve":{"axis":{"x":"independent","y":"independent"}},
    "layer":[
     {"data":{"name":"a_pk"},"mark":{"type":"rule","color":"#4d4dd2","strokeWidth":1.2},
      "encoding":{"x":{"field":"mz","type":"quantitative","scale":{"domain":[575,1777],"nice":false,"zero":false},"axis":{"orient":"bottom","offset":5,"domainWidth":10,"domainCap":"square","domainColor":"#EDEAD8","labels":false,"ticks":false,"title":null}},
       "y":{"field":"i","type":"quantitative","scale":{"domain":[0,1511],"nice":false},"axis":{"orient":"left","offset":9,"domainWidth":18,"domainCap":"square","domainColor":"#EDEAD8","labels":false,"ticks":false,"title":null}},
       "y2":{"datum":0}}},
     {"data":{"name":"a_base"},"mark":{"type":"line","color":"#1212c8","strokeWidth":1.2},
      "encoding":{"x":{"field":"mz","type":"quantitative","scale":{"domain":[575,1777],"nice":false,"zero":false},"axis":{"orient":"bottom","title":null,"values":[600,800,1000,1200,1400,1600],"format":"d"}},
       "y":{"field":"i","type":"quantitative","scale":{"domain":[0,1511],"nice":false},"axis":{"orient":"left","title":["Intens.","[a.u.]"],"values":[0,250,500,750,1000,1250],"format":"d"}}}},
     {"data":{"name":"a_lab"},"mark":{"type":"rule","color":"#333","strokeWidth":1},
      "encoding":{"x":{"field":"lx","type":"quantitative","scale":{"domain":[575,1777],"nice":false,"zero":false},"axis":null},"y":{"field":"ly","type":"quantitative","scale":{"domain":[0,1511],"nice":false},"axis":{"orient":"right","labels":false,"ticks":false,"title":null,"domainColor":"#222"}},"y2":{"field":"lead"}}},
     {"data":{"name":"a_lab"},"mark":{"type":"tick","orient":"horizontal","thickness":0.7,"color":"#555","yOffset":-1},
      "encoding":{"x":{"field":"lx","type":"quantitative","scale":{"domain":[575,1777],"nice":false,"zero":false},"axis":null},"y":{"field":"ly","type":"quantitative","scale":{"domain":[0,1511],"nice":false},"axis":null},"size":{"condition":{"test":"length(datum.val) > 7","value":31},"value":27}}},
     {"data":{"name":"a_lab"},"mark":{"type":"text","font":"Liberation Sans","fontSize":7.5,"baseline":"bottom","dy":-1,"color":"#333"},
      "encoding":{"x":{"field":"lx","type":"quantitative","scale":{"domain":[575,1777],"nice":false,"zero":false},"axis":null},"y":{"field":"ly","type":"quantitative","scale":{"domain":[0,1511],"nice":false},"axis":null},"text":{"field":"val"}}},
     {"data":{"name":"a_lab"},"mark":{"type":"text","font":"Lato","fontSize":14,"baseline":"middle","color":"#111"},
      "encoding":{"x":{"field":"tx","type":"quantitative","scale":{"domain":[575,1777],"nice":false,"zero":false},"axis":null},"y":{"field":"ty","type":"quantitative","scale":{"domain":[0,1511],"nice":false},"axis":null},"text":{"field":"dp"}}}
    ]},
   {"width":621,"height":272,
    "title":{"text":"8 hr","dx":-66,"offset":-56},
    "resolve":{"axis":{"x":"independent","y":"independent"}},
    "layer":[
     {"data":{"name":"b_pk"},"mark":{"type":"rule","color":"#f6c81a","strokeWidth":1.2},
      "encoding":{"x":{"field":"mz","type":"quantitative","scale":{"domain":[563,1784],"nice":false,"zero":false},"axis":{"orient":"bottom","offset":5,"domainWidth":10,"domainCap":"butt","domainColor":"#EDEAD8","labels":false,"ticks":false,"title":null}},
       "y":{"field":"i","type":"quantitative","scale":{"domain":[0,7019],"nice":false},"axis":{"orient":"left","offset":9,"domainWidth":18,"domainCap":"square","domainColor":"#EDEAD8","labels":false,"ticks":false,"title":null}},
       "y2":{"datum":0}}},
     {"data":{"name":"b_base"},"mark":{"type":"line","color":"#f2c200","strokeWidth":1.2},
      "encoding":{"x":{"field":"mz","type":"quantitative","scale":{"domain":[563,1784],"nice":false,"zero":false},"axis":{"orient":"bottom","title":null,"values":[600,800,1000,1200,1400,1600],"format":"d"}},
       "y":{"field":"i","type":"quantitative","scale":{"domain":[0,7019],"nice":false},"axis":{"orient":"left","title":["Intens.","[a.u.]"],"values":[0,2000,4000,6000],"format":"d"}}}},
     {"data":{"name":"b_lab"},"mark":{"type":"rule","color":"#333","strokeWidth":1},
      "encoding":{"x":{"field":"lx","type":"quantitative","scale":{"domain":[563,1784],"nice":false,"zero":false},"axis":null},"y":{"field":"ly","type":"quantitative","scale":{"domain":[0,7019],"nice":false},"axis":null},"y2":{"field":"lead"}}},
     {"data":{"name":"b_lab"},"mark":{"type":"tick","orient":"horizontal","thickness":0.7,"color":"#555","yOffset":-1},
      "encoding":{"x":{"field":"lx","type":"quantitative","scale":{"domain":[563,1784],"nice":false,"zero":false},"axis":null},"y":{"field":"ly","type":"quantitative","scale":{"domain":[0,7019],"nice":false},"axis":null},"size":{"condition":{"test":"length(datum.val) > 7","value":31},"value":27}}},
     {"data":{"name":"b_lab"},"mark":{"type":"text","font":"Liberation Sans","fontSize":7.5,"baseline":"bottom","dy":-1,"color":"#333"},
      "encoding":{"x":{"field":"lx","type":"quantitative","scale":{"domain":[563,1784],"nice":false,"zero":false},"axis":null},"y":{"field":"ly","type":"quantitative","scale":{"domain":[0,7019],"nice":false},"axis":null},"text":{"field":"val"}}},
     {"data":{"name":"b_lab"},"mark":{"type":"text","font":"Lato","fontSize":14,"baseline":"middle","color":"#111"},
      "encoding":{"x":{"field":"tx","type":"quantitative","scale":{"domain":[563,1784],"nice":false,"zero":false},"axis":null},"y":{"field":"ty","type":"quantitative","scale":{"domain":[0,7019],"nice":false},"axis":null},"text":{"field":"dp"}}}
    ]}
  ],"spacing":71,"bounds":"flush"},
  {"hconcat":[
   {"width":629,"height":282,
    "title":{"text":"12 hr","dx":-52,"offset":-24},
    "resolve":{"axis":{"x":"independent","y":"independent"}},
    "layer":[
     {"data":{"name":"c_pk"},"mark":{"type":"rule","color":"#3a3a8c","strokeWidth":1.2},
      "encoding":{"x":{"field":"mz","type":"quantitative","scale":{"domain":[580,1555],"nice":false,"zero":false},"axis":{"orient":"bottom","offset":5,"domainWidth":10,"domainCap":"square","domainColor":"#EDEAD8","labels":false,"ticks":false,"title":null}},
       "y":{"field":"i","type":"quantitative","scale":{"domain":[0,7520],"nice":false},"axis":{"orient":"left","offset":9,"domainWidth":18,"domainCap":"square","domainColor":"#EDEAD8","labels":false,"ticks":false,"title":null}},
       "y2":{"datum":0}}},
     {"data":{"name":"c_base"},"mark":{"type":"line","color":"#22226e","strokeWidth":1.2},
      "encoding":{"x":{"field":"mz","type":"quantitative","scale":{"domain":[580,1555],"nice":false,"zero":false},"axis":{"orient":"bottom","title":null,"values":[600,700,800,900,1000,1100,1200,1300,1400,1500],"format":"d"}},
       "y":{"field":"i","type":"quantitative","scale":{"domain":[0,7520],"nice":false},"axis":{"orient":"left","title":["Intens.","[a.u.]"],"values":[0,2000,4000,6000],"format":"d"}}}},
     {"data":{"name":"c_lab"},"mark":{"type":"rule","color":"#333","strokeWidth":1},
      "encoding":{"x":{"field":"lx","type":"quantitative","scale":{"domain":[580,1555],"nice":false,"zero":false},"axis":null},"y":{"field":"ly","type":"quantitative","scale":{"domain":[0,7520],"nice":false},"axis":null},"y2":{"field":"lead"}}},
     {"data":{"name":"c_lab"},"mark":{"type":"tick","orient":"horizontal","thickness":0.7,"color":"#555","yOffset":-1},
      "encoding":{"x":{"field":"lx","type":"quantitative","scale":{"domain":[580,1555],"nice":false,"zero":false},"axis":null},"y":{"field":"ly","type":"quantitative","scale":{"domain":[0,7520],"nice":false},"axis":null},"size":{"condition":{"test":"length(datum.val) > 7","value":31},"value":27}}},
     {"data":{"name":"c_lab"},"mark":{"type":"text","font":"Liberation Sans","fontSize":7.5,"baseline":"bottom","dy":-1,"color":"#333"},
      "encoding":{"x":{"field":"lx","type":"quantitative","scale":{"domain":[580,1555],"nice":false,"zero":false},"axis":null},"y":{"field":"ly","type":"quantitative","scale":{"domain":[0,7520],"nice":false},"axis":null},"text":{"field":"val"}}},
     {"data":{"name":"c_lab"},"mark":{"type":"text","font":"Lato","fontSize":14,"baseline":"middle","color":"#111"},
      "encoding":{"x":{"field":"tx","type":"quantitative","scale":{"domain":[580,1555],"nice":false,"zero":false},"axis":null},"y":{"field":"ty","type":"quantitative","scale":{"domain":[0,7520],"nice":false},"axis":null},"text":{"field":"dp"}}}
    ]},
   {"width":627,"height":273,
    "title":{"text":"24 hr","dx":-51,"offset":-47},
    "resolve":{"axis":{"x":"independent","y":"independent"}},
    "layer":[
     {"data":{"name":"d_pk"},"mark":{"type":"rule","color":"#d42a2a","strokeWidth":1.2},
      "encoding":{"x":{"field":"mz","type":"quantitative","scale":{"domain":[474,1741],"nice":false,"zero":false},"axis":{"orient":"bottom","offset":5,"domainWidth":10,"domainCap":"butt","domainColor":"#EDEAD8","labels":false,"ticks":false,"title":null}},
       "y":{"field":"i","type":"quantitative","scale":{"domain":[0,4946],"nice":false},"axis":{"orient":"left","offset":9,"domainWidth":18,"domainCap":"square","domainColor":"#EDEAD8","labels":false,"ticks":false,"title":null}},
       "y2":{"datum":0}}},
     {"data":{"name":"d_base"},"mark":{"type":"line","color":"#d01414","strokeWidth":1.2},
      "encoding":{"x":{"field":"mz","type":"quantitative","scale":{"domain":[474,1741],"nice":false,"zero":false},"axis":{"orient":"bottom","title":null,"values":[600,800,1000,1200,1400,1600],"format":"d"}},
       "y":{"field":"i","type":"quantitative","scale":{"domain":[0,4946],"nice":false},"axis":{"orient":"left","title":["Intens.","[a.u.]"],"values":[0,1000,2000,3000,4000],"format":"d"}}}},
     {"data":{"name":"d_lab"},"mark":{"type":"rule","color":"#333","strokeWidth":1},
      "encoding":{"x":{"field":"lx","type":"quantitative","scale":{"domain":[474,1741],"nice":false,"zero":false},"axis":null},"y":{"field":"ly","type":"quantitative","scale":{"domain":[0,4946],"nice":false},"axis":null},"y2":{"field":"lead"}}},
     {"data":{"name":"d_lab"},"mark":{"type":"tick","orient":"horizontal","thickness":0.7,"color":"#555","yOffset":-1},
      "encoding":{"x":{"field":"lx","type":"quantitative","scale":{"domain":[474,1741],"nice":false,"zero":false},"axis":null},"y":{"field":"ly","type":"quantitative","scale":{"domain":[0,4946],"nice":false},"axis":null},"size":{"condition":{"test":"length(datum.val) > 7","value":31},"value":27}}},
     {"data":{"name":"d_lab"},"mark":{"type":"text","font":"Liberation Sans","fontSize":7.5,"baseline":"bottom","dy":-1,"color":"#333"},
      "encoding":{"x":{"field":"lx","type":"quantitative","scale":{"domain":[474,1741],"nice":false,"zero":false},"axis":null},"y":{"field":"ly","type":"quantitative","scale":{"domain":[0,4946],"nice":false},"axis":null},"text":{"field":"val"}}},
     {"data":{"name":"d_lab"},"mark":{"type":"text","font":"Lato","fontSize":14,"baseline":"middle","color":"#111"},
      "encoding":{"x":{"field":"tx","type":"quantitative","scale":{"domain":[474,1741],"nice":false,"zero":false},"axis":null},"y":{"field":"ty","type":"quantitative","scale":{"domain":[0,4946],"nice":false},"axis":null},"text":{"field":"dp"}}}
    ]}
  ],"spacing":62,"bounds":"flush"}
 ],"spacing":39.5},
 {"hconcat":[
   {"width":302,"height":278,"data":{"values":[]},"mark":{"type":"point","opacity":0}},
   {"width":630,"height":278,
    "title":{"text":"48 hr","dx":-46,"offset":-29},
    "resolve":{"axis":{"x":"independent","y":"independent"}},
    "layer":[
     {"data":{"name":"e_pk"},"mark":{"type":"rule","color":"#33dd33","strokeWidth":1.2},
      "encoding":{"x":{"field":"mz","type":"quantitative","scale":{"domain":[534,1734],"nice":false,"zero":false},"axis":{"orient":"bottom","offset":4.5,"domainWidth":9,"domainCap":"square","domainColor":"#EDEAD8","labels":false,"ticks":false,"title":null}},
       "y":{"field":"i","type":"quantitative","scale":{"domain":[0,1.272],"nice":false},"axis":{"orient":"left","offset":9,"domainWidth":18,"domainCap":"square","domainColor":"#EDEAD8","labels":false,"ticks":false,"title":null}},
       "y2":{"datum":0}}},
     {"data":{"name":"e_base"},"mark":{"type":"line","color":"#22d822","strokeWidth":1.2},
      "encoding":{"x":{"field":"mz","type":"quantitative","scale":{"domain":[534,1734],"nice":false,"zero":false},"axis":{"orient":"bottom","title":null,"values":[600,800,1000,1200,1400,1600],"format":"d"}},
       "y":{"field":"i","type":"quantitative","scale":{"domain":[0,1.272],"nice":false},"axis":{"orient":"left","title":["Intens.","[a.u.]","x10⁴"],"values":[0,0.2,0.4,0.6,0.8,1.0,1.2],"format":".1f"}}}},
     {"data":{"name":"e_lab"},"mark":{"type":"rule","color":"#333","strokeWidth":1},
      "encoding":{"x":{"field":"lx","type":"quantitative","scale":{"domain":[534,1734],"nice":false,"zero":false},"axis":null},"y":{"field":"ly","type":"quantitative","scale":{"domain":[0,1.272],"nice":false},"axis":null},"y2":{"field":"lead"}}},
     {"data":{"name":"e_lab"},"mark":{"type":"tick","orient":"horizontal","thickness":0.7,"color":"#555","yOffset":-1},
      "encoding":{"x":{"field":"lx","type":"quantitative","scale":{"domain":[534,1734],"nice":false,"zero":false},"axis":null},"y":{"field":"ly","type":"quantitative","scale":{"domain":[0,1.272],"nice":false},"axis":null},"size":{"condition":{"test":"length(datum.val) > 7","value":31},"value":27}}},
     {"data":{"name":"e_lab"},"mark":{"type":"text","font":"Liberation Sans","fontSize":7.5,"baseline":"bottom","dy":-1,"color":"#333"},
      "encoding":{"x":{"field":"lx","type":"quantitative","scale":{"domain":[534,1734],"nice":false,"zero":false},"axis":null},"y":{"field":"ly","type":"quantitative","scale":{"domain":[0,1.272],"nice":false},"axis":null},"text":{"field":"val"}}},
     {"data":{"name":"e_lab"},"mark":{"type":"text","font":"Lato","fontSize":14,"baseline":"middle","color":"#111"},
      "encoding":{"x":{"field":"tx","type":"quantitative","scale":{"domain":[534,1734],"nice":false,"zero":false},"axis":null},"y":{"field":"ty","type":"quantitative","scale":{"domain":[0,1.272],"nice":false},"axis":null},"text":{"field":"dp"}}}
    ]}
 ],"spacing":0,"bounds":"flush"}
],
"spacing":71.5
}
